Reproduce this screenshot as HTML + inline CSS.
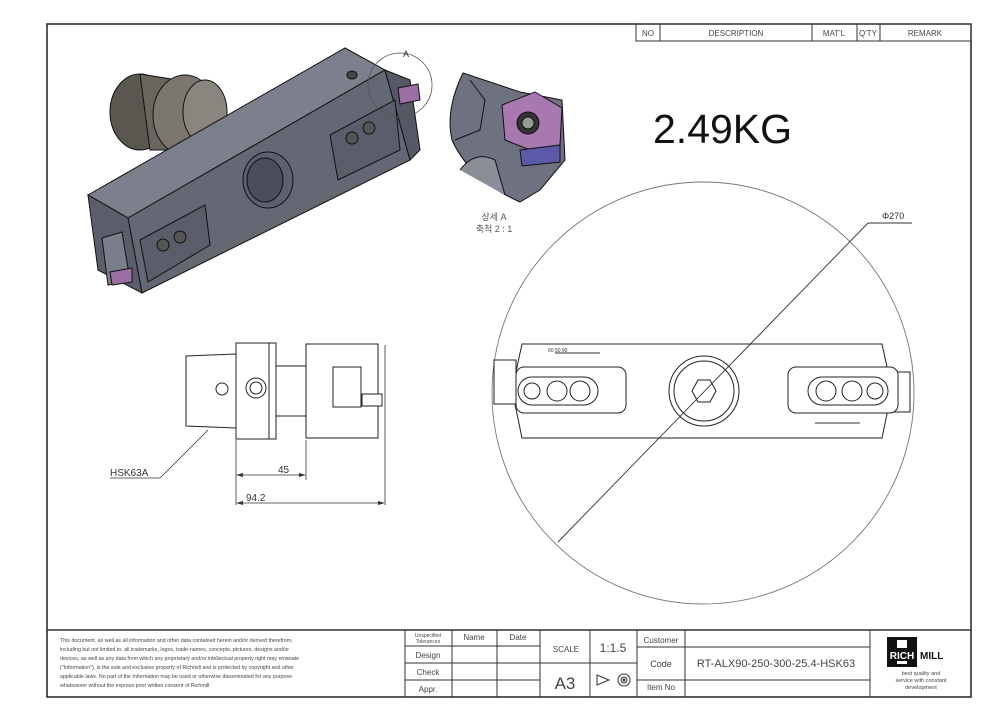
<!DOCTYPE html>
<html><head><meta charset="utf-8"><style>
body{margin:0;background:#fff;}
svg{display:block;font-family:"Liberation Sans","Noto Sans CJK KR",sans-serif;}
</style></head><body>
<svg width="983" height="720" viewBox="0 0 983 720" xmlns="http://www.w3.org/2000/svg">
<rect x="0" y="0" width="983" height="720" fill="#fff"/>
<rect x="47" y="24" width="924" height="673" fill="none" stroke="#222" stroke-width="1.5"/>
<g stroke="#333" stroke-width="1" fill="none">
<rect x="636" y="24" width="335" height="17"/>
<line x1="660" y1="24" x2="660" y2="41"/><line x1="812" y1="24" x2="812" y2="41"/>
<line x1="857" y1="24" x2="857" y2="41"/><line x1="880" y1="24" x2="880" y2="41"/>
</g>
<g font-size="8" fill="#444" text-anchor="middle">
<text x="648" y="36">NO</text><text x="736" y="36">DESCRIPTION</text><text x="834" y="36">MAT'L</text><text x="868" y="36">Q'TY</text><text x="925" y="36">REMARK</text>
</g>
<g stroke="#111" stroke-width="1">
<ellipse cx="140" cy="112" rx="30" ry="38" fill="#5a5650"/>
<path d="M140 74 L190 82 L215 110 L205 150 L150 150 Z" fill="#6a665f"/>
<ellipse cx="185" cy="115" rx="32" ry="40" fill="#7b776f"/>
<ellipse cx="205" cy="112" rx="22" ry="32" fill="#8a867f"/>
<polygon points="88,195 345,48 385,70 128,218" fill="#7c808c"/>
<polygon points="128,218 385,70 410,160 142,293" fill="#646874"/>
<polygon points="88,195 128,218 142,293 98,270" fill="#5a5e6a"/>
<polygon points="385,70 410,80 420,150 410,160" fill="#555966"/>
<ellipse cx="352" cy="75" rx="5" ry="4" fill="#444"/>
<ellipse cx="268" cy="180" rx="25" ry="28" fill="#5c6070"/>
<ellipse cx="265" cy="180" rx="18" ry="22" fill="#4a4e5a"/>
<polygon points="330,135 395,100 400,150 338,180" fill="#5a5e6b"/>
<circle cx="352" cy="138" r="6" fill="#555"/><circle cx="369" cy="128" r="6" fill="#555"/>
<polygon points="140,240 205,205 210,245 148,282" fill="#5a5e6b"/>
<circle cx="163" cy="245" r="6" fill="#555"/><circle cx="180" cy="237" r="6" fill="#555"/>
<polygon points="102,238 122,232 130,280 108,285" fill="#7a7e8a"/>
<polygon points="110,272 132,268 132,282 112,285" fill="#9a6fa6"/>
<polygon points="398,88 418,84 420,100 400,104" fill="#9a6fa6"/>
</g>
<circle cx="400" cy="85" r="32" fill="none" stroke="#555" stroke-width="0.8"/>
<text x="403" y="57" font-size="9" fill="#333">A</text>
<g stroke="#111" stroke-width="1">
<path d="M463 73 L520 92 L562 100 L565 160 L540 190 L520 202 Q470 180 452 140 Q445 110 463 73 Z" fill="#6e7280"/>
<path d="M470 80 L485 100 L480 130 L455 140" fill="none"/>
<path d="M460 170 Q475 150 495 160 L505 195" fill="#8a8e99"/>
<polygon points="502,105 535,92 562,108 560,145 530,150 505,140" fill="#a878b0"/>
<polygon points="520,150 560,145 560,162 522,166" fill="#5b5aa8"/>
<circle cx="528" cy="123" r="11" fill="#333"/><circle cx="528" cy="123" r="6" fill="#999"/>
</g>
<text x="494" y="220" font-size="9" fill="#555" text-anchor="middle">상세 A</text>
<text x="494" y="232" font-size="9" fill="#555" text-anchor="middle">축척 2 : 1</text>
<text x="653" y="143" font-size="41" fill="#111" font-weight="300">2.49KG</text>
<circle cx="703" cy="393" r="211" fill="none" stroke="#777" stroke-width="0.9"/>
<g stroke="#222" stroke-width="1" fill="#fff">
<path d="M522 344 L882 344 L892 390 L882 438 L522 438 L512 390 Z"/>
<rect x="494" y="360" width="22" height="44"/>
<rect x="888" y="372" width="22" height="40"/>
<rect x="516" y="367" width="110" height="46" rx="8"/>
<rect x="788" y="367" width="110" height="46" rx="8"/>
<rect x="518" y="377" width="80" height="28" rx="14"/>
<circle cx="532" cy="391" r="8"/><circle cx="557" cy="391" r="10"/><circle cx="580" cy="391" r="10"/>
<rect x="808" y="377" width="80" height="28" rx="14"/>
<circle cx="826" cy="391" r="10"/><circle cx="852" cy="391" r="10"/><circle cx="875" cy="391" r="8"/>
<circle cx="704" cy="391" r="35"/><circle cx="704" cy="391" r="30"/>
<polygon points="698,380 710,380 716,391 710,402 698,402 692,391"/>
</g>
<line x1="555" y1="353" x2="600" y2="353" stroke="#333"/>
<text x="548" y="352" font-size="5" fill="#333">60 50 90</text>
<line x1="815" y1="423" x2="860" y2="423" stroke="#333"/>
<line x1="558" y1="542" x2="868" y2="223" stroke="#333" stroke-width="0.9"/>
<line x1="868" y1="223" x2="912" y2="223" stroke="#333" stroke-width="0.9"/>
<text x="882" y="219" font-size="9" fill="#333">Φ270</text>
<g stroke="#222" stroke-width="1" fill="#fff">
<path d="M186 356 L236 354 L236 428 L186 426 Z"/>
<rect x="236" y="343" width="33" height="96"/>
<rect x="269" y="343" width="7" height="96"/>
<rect x="276" y="366" width="30" height="50"/>
<rect x="306" y="344" width="72" height="94"/>
<rect x="333" y="367" width="28" height="40"/>
<circle cx="222" cy="389" r="6"/><circle cx="256" cy="388" r="10"/><circle cx="256" cy="388" r="6"/>
<rect x="362" y="394" width="20" height="12"/>
</g>
<g stroke="#333" stroke-width="0.8" fill="none">
<line x1="160" y1="478" x2="208" y2="430"/><line x1="110" y1="478" x2="160" y2="478"/>
<line x1="236" y1="440" x2="236" y2="505"/><line x1="306" y1="440" x2="306" y2="480"/><line x1="385" y1="345" x2="385" y2="505"/>
<line x1="238" y1="475" x2="304" y2="475"/><line x1="238" y1="503" x2="383" y2="503"/>
</g>
<g fill="#333"><polygon points="236,475 243,473 243,477"/><polygon points="306,475 299,473 299,477"/><polygon points="236,503 243,501 243,505"/><polygon points="385,503 378,501 378,505"/></g>
<text x="110" y="476" font-size="10" fill="#333">HSK63A</text>
<text x="278" y="473" font-size="10" fill="#333">45</text>
<text x="246" y="501" font-size="10" fill="#333">94.2</text>
<g stroke="#333" stroke-width="1" fill="none">
<line x1="47" y1="630" x2="971" y2="630" stroke-width="1.5"/>
<line x1="405" y1="630" x2="405" y2="697"/><line x1="452" y1="630" x2="452" y2="697"/>
<line x1="497" y1="630" x2="497" y2="697"/><line x1="540" y1="630" x2="540" y2="697"/>
<line x1="590" y1="630" x2="590" y2="697"/><line x1="637" y1="630" x2="637" y2="697"/>
<line x1="685" y1="630" x2="685" y2="697"/><line x1="870" y1="630" x2="870" y2="697"/>
<line x1="405" y1="646" x2="540" y2="646"/><line x1="405" y1="663" x2="540" y2="663"/><line x1="405" y1="680" x2="540" y2="680"/>
<line x1="540" y1="663" x2="637" y2="663"/>
<line x1="637" y1="647" x2="870" y2="647"/><line x1="637" y1="680" x2="870" y2="680"/>
</g>
<g font-size="5.3" fill="#444">
<text x="60" y="642">This document, as well as all information and other data contained herein and/or derived therefrom,</text>
<text x="60" y="651">including but not limited to, all trademarks, logos, trade-names, concepts, pictures, designs and/or</text>
<text x="60" y="660">devices, as well as any data from which any proprietary and/or intellectual property right may emanate</text>
<text x="60" y="669">("Information"), is the sole and exclusive property of Richmill and is protected by copyright and other</text>
<text x="60" y="678">applicable laws. No part of the Information may be used or otherwise disseminated for any purpose</text>
<text x="60" y="687">whatsoever without the express prior written consent of Richmill</text>
</g>
<g fill="#444" text-anchor="middle">
<text x="428" y="637" font-size="5">Unspecified</text><text x="428" y="643" font-size="5">Tolerances</text>
<text x="474" y="640" font-size="8">Name</text><text x="518" y="640" font-size="8">Date</text>
<text x="428" y="658" font-size="8">Design</text><text x="428" y="675" font-size="8">Check</text><text x="428" y="692" font-size="8">Appr.</text>
<text x="566" y="652" font-size="8">SCALE</text><text x="613" y="652" font-size="12">1:1.5</text>
<text x="565" y="689" font-size="17">A3</text>
<text x="661" y="643" font-size="8">Customer</text><text x="661" y="667" font-size="9">Code</text><text x="661" y="690" font-size="8">Item No</text>
<text x="776" y="667" font-size="11">RT-ALX90-250-300-25.4-HSK63</text>
</g>
<g stroke="#333" fill="none"><polygon points="597,675 609,680 597,685"/><circle cx="624" cy="680" r="6"/><circle cx="624" cy="680" r="3"/><circle cx="624" cy="680" r="1" fill="#333"/></g>
<rect x="887" y="637" width="30" height="30" fill="#111"/>
<rect x="897" y="640" width="10" height="24" fill="#fff"/>
<rect x="887" y="648" width="30" height="13" fill="#111"/>
<text x="902" y="659" font-size="10" font-weight="bold" fill="#fff" text-anchor="middle">RICH</text>
<text x="920" y="659" font-size="10" font-weight="bold" fill="#111">MILL</text>
<g font-size="5.5" fill="#444" text-anchor="middle"><text x="921" y="675">best quality and</text><text x="921" y="682">service with constant</text><text x="921" y="689">development</text></g>
</svg>
</body></html>
